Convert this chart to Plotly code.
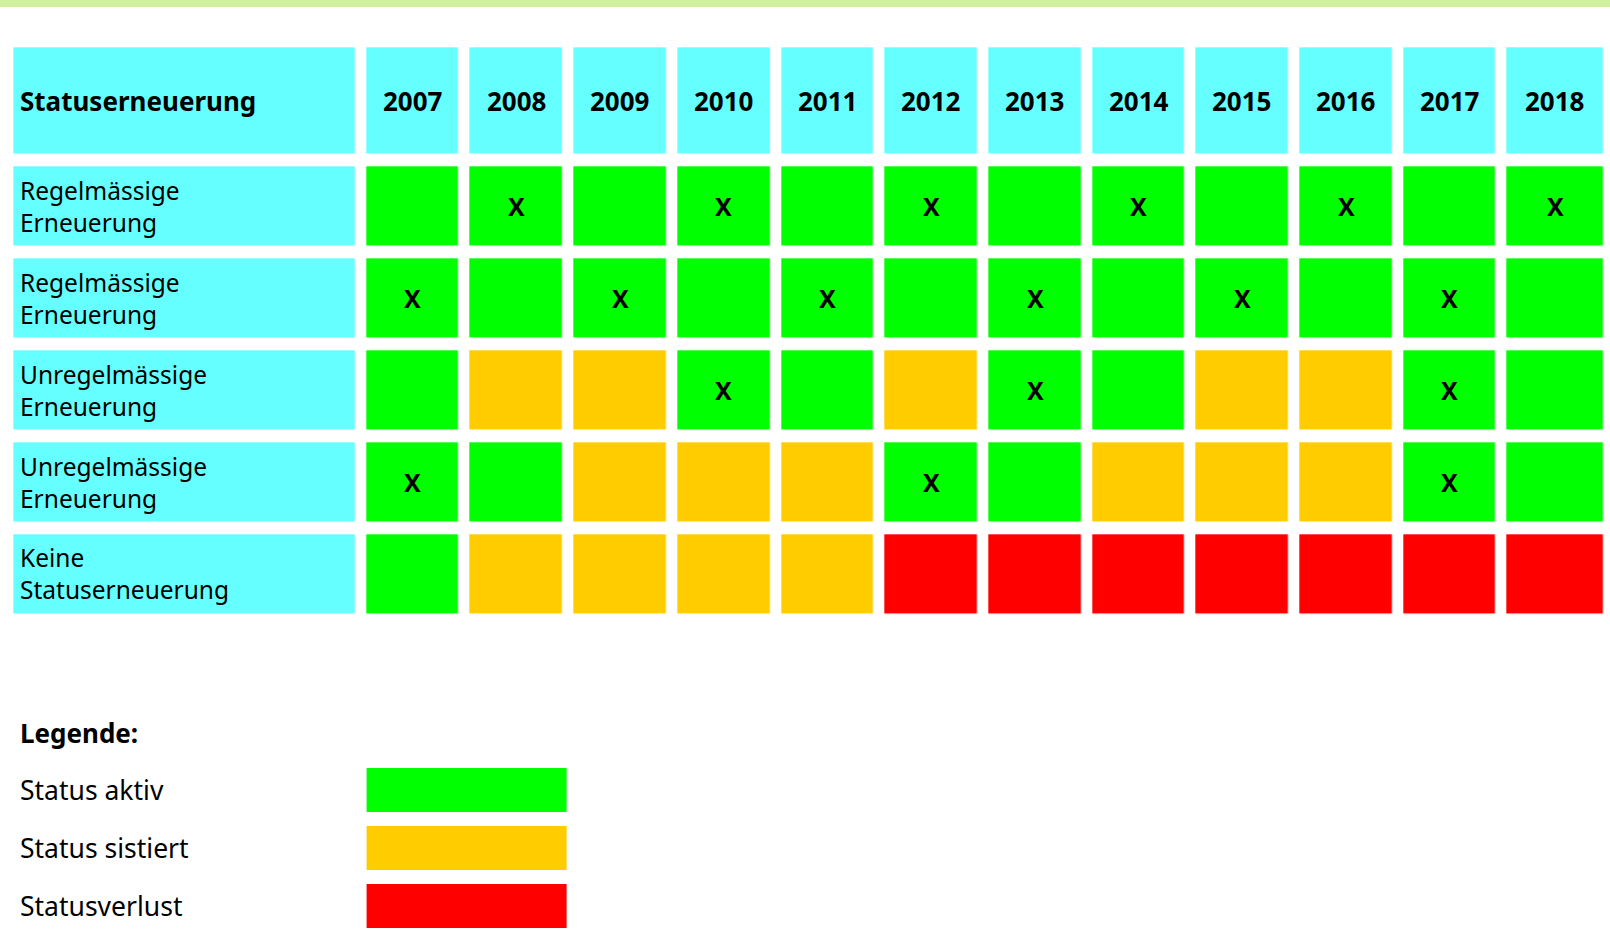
import plotly.graph_objects as go

# ---------------- data ----------------
years = ["2007", "2008", "2009", "2010", "2011", "2012",
         "2013", "2014", "2015", "2016", "2017", "2018"]
header_label = "Statuserneuerung"
row_labels = ["Regelmässige<br>Erneuerung",
              "Regelmässige<br>Erneuerung",
              "Unregelmässige<br>Erneuerung",
              "Unregelmässige<br>Erneuerung",
              "Keine<br>Statuserneuerung"]

# status per row and year: A = aktiv, S = sistiert, V = Statusverlust
status_row1 = ["A", "A", "A", "A", "A", "A", "A", "A", "A", "A", "A", "A"]
status_row2 = ["A", "A", "A", "A", "A", "A", "A", "A", "A", "A", "A", "A"]
status_row3 = ["A", "S", "S", "A", "A", "S", "A", "A", "S", "S", "A", "A"]
status_row4 = ["A", "A", "S", "S", "S", "A", "A", "S", "S", "S", "A", "A"]
status_row5 = ["A", "S", "S", "S", "S", "V", "V", "V", "V", "V", "V", "V"]

# years in which a status renewal took place (marked with X)
renewal_row1 = ["2008", "2010", "2012", "2014", "2016", "2018"]
renewal_row2 = ["2007", "2009", "2011", "2013", "2015", "2017"]
renewal_row3 = ["2010", "2013", "2017"]
renewal_row4 = ["2007", "2012", "2017"]
renewal_row5 = []

legend_title = "Legende:"
legend_labels = ["Status aktiv", "Status sistiert", "Statusverlust"]
legend_codes = ["A", "S", "V"]

# ---------------- style ----------------
CYAN = "#66ffff"
GREEN = "#00ff00"
ORANGE = "#ffcc00"
RED = "#ff0000"
TOPBAR = "#d0f0a0"
TEXT = "#000000"
FONT = "Noto Sans"

W, H = 1610, 939
code_val = {"H": 0, "A": 1, "S": 2, "V": 3}
colorscale = [[0.0, CYAN], [1 / 6, CYAN], [1 / 6, GREEN], [0.5, GREEN],
              [0.5, ORANGE], [5 / 6, ORANGE], [5 / 6, RED], [1.0, RED]]

# layout geometry (pixels in the axis frame)
label_x0, label_x1 = 14.0, 355.3
gap_x = 11.4
col_x0, col_pitch, col_w, last_col_w = 366.7, 103.7, 92.3, 96.0
head_y0, head_y1 = 47.7, 154.0
gap_y = 12.8
row_y0, row_pitch, row_h = 166.8, 91.9, 79.0

# column bricks
bricks_x = [(label_x0, label_x1)]
for i in range(len(years)):
    x0 = col_x0 + i * col_pitch
    w = last_col_w if i == len(years) - 1 else col_w
    bricks_x.append((x0, x0 + w))
x_edges = [bricks_x[0][0] - gap_x / 2] + [b[1] + gap_x / 2 for b in bricks_x]
x_centers = [(a + b) / 2 for a, b in bricks_x]

bricks_y = [(head_y0, head_y1)]
for r in range(len(row_labels)):
    y0 = row_y0 + r * row_pitch
    bricks_y.append((y0, y0 + row_h))
y_edges = [bricks_y[0][0] - gap_y / 2] + [b[1] + gap_y / 2 for b in bricks_y]
y_centers = [(a + b) / 2 for a, b in bricks_y]

status_rows = [status_row1, status_row2, status_row3, status_row4, status_row5]
renewal_rows = [renewal_row1, renewal_row2, renewal_row3, renewal_row4, renewal_row5]

z = [[code_val["H"]] * (len(years) + 1)]
for row in status_rows:
    z.append([code_val["H"]] + [code_val[s] for s in row])

fig = go.Figure()
fig.add_trace(go.Heatmap(
    z=z, x=x_edges, y=y_edges, xgap=gap_x, ygap=gap_y,
    colorscale=colorscale, zmin=0, zmax=3, showscale=False, hoverinfo="skip"))

# legend swatches
leg_x0, leg_x1 = 366.6, 566.8
leg_y0, leg_pitch, leg_h = 768.0, 58.0, 44.0
leg_gap = leg_pitch - leg_h
leg_bricks_y = [(leg_y0 + i * leg_pitch, leg_y0 + i * leg_pitch + leg_h)
                for i in range(len(legend_labels))]
leg_y_edges = [leg_bricks_y[0][0] - leg_gap / 2] + [b[1] + leg_gap / 2 for b in leg_bricks_y]
fig.add_trace(go.Heatmap(
    z=[[code_val[c]] for c in legend_codes], x=[leg_x0, leg_x1], y=leg_y_edges,
    ygap=leg_gap, colorscale=colorscale, zmin=0, zmax=3, showscale=False,
    hoverinfo="skip"))

ann = []
text_x = 18.3
ann.append(dict(x=text_x, y=y_centers[0], text="<b>%s</b>" % header_label,
                xanchor="left", yanchor="middle", showarrow=False,
                font=dict(family=FONT, size=26, color=TEXT)))
for i, yr in enumerate(years):
    ann.append(dict(x=x_centers[i + 1], y=y_centers[0], text="<b>%s</b>" % yr,
                    xanchor="center", yanchor="middle", showarrow=False,
                    font=dict(family=FONT, size=26, color=TEXT)))
for r, lab in enumerate(row_labels):
    ann.append(dict(x=text_x, y=y_centers[r + 1], text=lab, align="left",
                    xanchor="left", yanchor="middle", showarrow=False,
                    font=dict(family=FONT, size=24.5, color=TEXT)))
    for yr in renewal_rows[r]:
        ci = years.index(yr) + 1
        ann.append(dict(x=x_centers[ci], y=y_centers[r + 1], text="<b>X</b>",
                        xanchor="center", yanchor="middle", showarrow=False,
                        font=dict(family=FONT, size=25, color=TEXT)))

ann.append(dict(x=text_x, y=733, text="<b>%s</b>" % legend_title,
                xanchor="left", yanchor="middle", showarrow=False,
                font=dict(family=FONT, size=26, color=TEXT)))
for i, lab in enumerate(legend_labels):
    yc = (leg_bricks_y[i][0] + leg_bricks_y[i][1]) / 2
    ann.append(dict(x=text_x, y=yc, text=lab, xanchor="left", yanchor="middle",
                    showarrow=False, font=dict(family=FONT, size=26.5, color=TEXT)))

fig.update_layout(
    width=W, height=H, margin=dict(l=0, r=0, t=0, b=0),
    paper_bgcolor="white", plot_bgcolor="white",
    xaxis=dict(range=[0, W], visible=False, fixedrange=True),
    yaxis=dict(range=[H, 0], visible=False, fixedrange=True),
    annotations=ann,
    shapes=[dict(type="rect", xref="paper", yref="y", x0=0, x1=1, y0=0, y1=7,
                 fillcolor=TOPBAR, line=dict(width=0), layer="above")],
)

fig.write_html("out.html", config={"displayModeBar": False},
               post_script="document.body.style.margin='0';"
                           "document.body.style.overflow='hidden';")
